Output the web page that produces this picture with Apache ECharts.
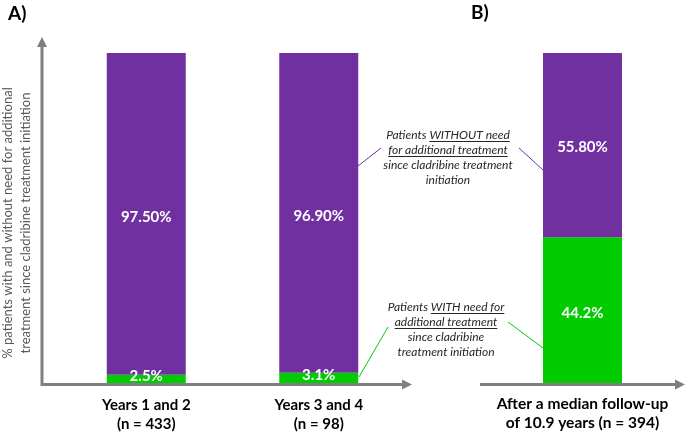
<!DOCTYPE html>
<html>
<head>
<meta charset="utf-8">
<script src="https://cdn.jsdelivr.net/npm/echarts@6/dist/echarts.min.js"></script>
<style>
  html, body { margin: 0; padding: 0; background: #ffffff; }
  #chart { width: 685px; height: 434px; }
</style>
</head>
<body>
<div id="chart"></div>
<script>
// ---- data ----
const categoriesA = ['Years 1 and 2\n(n = 433)', 'Years 3 and 4\n(n = 98)'];
const withoutNeedA = [97.5, 96.9];
const withNeedA = [2.5, 3.1];
const categoriesB = ['After a median follow-up\nof 10.9 years (n = 394)'];
const withoutNeedB = [55.8];
const withNeedB = [44.2];
const yAxisTitle = ['% patients with and without need for additional', 'treatment since cladribine treatment initiation'];
const panelLabels = ['A)', 'B)'];
const noteWithout = [['Patients ', 'WITHOUT need'], ['', 'for additional treatment'], ['since cladribine treatment', ''], ['initiation', '']];
const noteWith = [['Patients ', 'WITH need for'], ['', 'additional treatment'], ['since cladribine', ''], ['treatment initiation', '']];

// ---- style ----
const PURPLE = '#7030A0';
const GREEN = '#00CC00';
const AXIS = '#7F7F7F';
const FONT = 'Lato';

const chart = echarts.init(document.getElementById('chart'), null, { renderer: 'canvas' });

const ctx = document.createElement('canvas').getContext('2d');
function measure(t, font) { ctx.font = font; return ctx.measureText(t).width; }

function labelSeries(name, data, color, xi, fmt, stack, dy) {
  return {
    name: name, type: 'bar', stack: stack, xAxisIndex: xi, yAxisIndex: xi,
    data: data, barWidth: 79,
    itemStyle: { color: color },
    label: {
      show: true, position: 'inside', color: '#ffffff', fontFamily: FONT,
      fontWeight: 'bold', fontSize: 15, offset: [0, dy], formatter: p => fmt(p.value)
    },
    emphasis: { disabled: true }
  };
}

const fmtWithout = v => v.toFixed(2) + '%';
const fmtWith = v => v.toFixed(1) + '%';

// annotation builder
function noteGraphics(lines, cx, top) {
  const els = [];
  const font = 'italic 12px ' + FONT;
  const lh = 15;
  lines.forEach((parts, i) => {
    const full = parts[0] + parts[1];
    const w = measure(full, font);
    const left = cx - w / 2;
    const yc = top + lh * i + lh / 2;
    els.push({
      type: 'text', silent: true,
      style: { x: cx, y: yc, text: full, align: 'center', verticalAlign: 'middle',
        font: font, fill: '#262626' }
    });
    if (parts[1] && i < 2) {
      const u0 = left + measure(parts[0], font);
      const u1 = left + w;
      els.push({ type: 'line', silent: true,
        shape: { x1: u0, y1: yc + 6.5, x2: u1, y2: yc + 6.5 },
        style: { stroke: '#262626', lineWidth: 1 } });
    }
  });
  return els;
}

function arrowH(x1, x2, y) {
  return [
    { type: 'line', silent: true, shape: { x1: x1, y1: y, x2: x2 - 8, y2: y }, style: { stroke: AXIS, lineWidth: 3 } },
    { type: 'polygon', silent: true, shape: { points: [[x2 - 10, y - 5], [x2, y], [x2 - 10, y + 5]] }, style: { fill: AXIS } }
  ];
}
function arrowV(x, y1, y2) {
  return [
    { type: 'line', silent: true, shape: { x1: x, y1: y1, x2: x, y2: y2 + 8 }, style: { stroke: AXIS, lineWidth: 3 } },
    { type: 'polygon', silent: true, shape: { points: [[x - 5, y2 + 10], [x, y2], [x + 5, y2 + 10]] }, style: { fill: AXIS } }
  ];
}

const option = {
  animation: false,
  backgroundColor: '#ffffff',
  grid: [
    { left: 60, width: 345, top: 53, bottom: 51 },
    { left: 480, width: 205, top: 53, bottom: 51 }
  ],
  xAxis: [
    { type: 'category', gridIndex: 0, data: categoriesA,
      axisLine: { show: false }, axisTick: { show: false },
      axisLabel: { color: '#000', fontFamily: FONT, fontWeight: 'bold', fontSize: 15, lineHeight: 19, margin: 13 } },
    { type: 'category', gridIndex: 1, data: categoriesB,
      axisLine: { show: false }, axisTick: { show: false },
      axisLabel: { color: '#000', fontFamily: FONT, fontWeight: 'bold', fontSize: 15.5, lineHeight: 19, margin: 11 } }
  ],
  yAxis: [
    { type: 'value', gridIndex: 0, min: 0, max: 100, show: false },
    { type: 'value', gridIndex: 1, min: 0, max: 100, show: false }
  ],
  series: [
    labelSeries('with A', withNeedA, GREEN, 0, fmtWith, 'a', -3),
    labelSeries('without A', withoutNeedA, PURPLE, 0, fmtWithout, 'a', 3),
    labelSeries('with B', withNeedB, GREEN, 1, fmtWith, 'b', 3),
    labelSeries('without B', withoutNeedB, PURPLE, 1, fmtWithout, 'b', 2)
  ],
  graphic: []
};
chart.setOption(option);

const g = [];
g.push({ type: 'text', silent: true, style: { x: 8, y: 4, text: panelLabels[0], font: 'bold 19px ' + FONT, fill: '#000' } });
g.push({ type: 'text', silent: true, style: { x: 471, y: 3, text: panelLabels[1], font: 'bold 19px ' + FONT, fill: '#000' } });
g.push({ type: 'text', silent: true, rotation: Math.PI / 2, x: 17, y: 223,
  style: { x: 0, y: 0, text: yAxisTitle.join('\n'), align: 'center', verticalAlign: 'middle',
    font: '13px ' + FONT, lineHeight: 18, fill: '#595959' } });
arrowV(42, 386, 37).forEach(e => g.push(e));
arrowH(41, 412, 384.5).forEach(e => g.push(e));
arrowH(480, 685, 384.5).forEach(e => g.push(e));
noteGraphics(noteWithout, 448, 127.5).forEach(e => g.push(e));
noteGraphics(noteWith, 446, 299.5).forEach(e => g.push(e));
const connectors = [
  [358, 166, 381, 148, PURPLE], [519, 148, 543, 170, PURPLE],
  [359, 377, 388, 327, GREEN], [508, 322, 543, 348, GREEN]
];
connectors.forEach(c => g.push({ type: 'line', silent: true,
  shape: { x1: c[0], y1: c[1], x2: c[2], y2: c[3] }, style: { stroke: c[4], lineWidth: 1 } }));
chart.setOption({ graphic: g });
</script>
</body>
</html>
